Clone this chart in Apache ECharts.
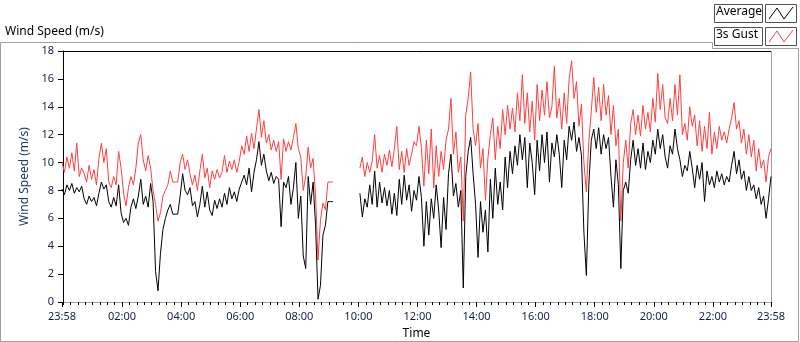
<!DOCTYPE html>
<html>
<head>
<meta charset="utf-8">
<script src="https://cdn.jsdelivr.net/npm/echarts@6/dist/echarts.min.js"></script>
<style>
html, body { margin: 0; padding: 0; background: #fff; }
#chart { width: 800px; height: 342px; }
</style>
</head>
<body>
<div id="chart"></div>
<script>
// samples every 5 minutes, starting 23:58 (minute -2 of the day)
const startMin = -2;
const stepMin = 5;

// average wind speed (m/s), null = no data
const average = [
  8.1, 7.7, 8.4, 8.0, 8.5, 7.8, 8.2, 7.9, 8.3,
  7.4, 7.0, 7.6, 7.2, 7.5, 6.9,
  7.8, 8.6, 8.1, 8.4,
  7.2, 6.8, 7.5, 6.9,
  8.4,
  6.4, 5.7, 6.0, 5.5,
  6.8, 7.4, 6.7, 7.6,
  8.8,
  7.0, 7.6, 6.8, 8.5,
  7.2, 2.2, 0.8, 3.5, 5.2, 6.0, 6.6, 7.0,
  6.3, 6.3, 6.3,
  7.6, 9.2,
  8.0, 7.7, 8.2,
  6.9, 7.2, 6.1,
  7.0, 8.3, 6.8, 7.9, 6.6,
  6.2, 7.3, 6.7, 7.4, 6.8,
  7.8, 7.0, 8.2,
  7.4, 7.9, 7.2, 8.1,
  8.6, 9.1,
  8.4, 9.6, 7.9, 9.3,
  10.2, 11.5, 9.8, 10.6,
  9.4, 8.7, 9.3, 8.5, 9.0, 8.8,
  5.4,
  8.6, 8.2, 9.0,
  7.0, 8.2,
  10.0, 6.0, 7.6, 3.3, 2.4, 9.0, 7.0, 8.6, 5.5, 0.2, 1.2, 4.8, 5.5,
  7.2, 7.2, 7.2,
  null, null, null, null, null, null, null, null, null, null,
  7.8, 6.1, 7.4, 6.8, 8.4, 7.0, 9.4, 6.8, 8.6, 7.1,
  8.2, 6.9, 8.0, 6.3, 7.8, 6.2, 8.8, 7.0, 9.1, 7.3,
  8.4, 6.5, 8.0, 7.3, 9.0, 7.5, 4.0,
  7.2, 4.8, 7.4, 6.0, 8.4, 6.6, 3.9, 7.5, 5.2, 9.2,
  10.6, 7.6, 8.5, 6.8, 8.0, 1.0, 9.0, 10.8, 11.8, 9.2,
  7.0, 3.2, 7.2, 5.0, 6.6, 3.6, 8.8, 6.0, 9.6, 7.0,
  8.6, 6.6, 10.4, 8.2, 10.8, 9.2, 11.2, 9.8, 12.0, 10.2,
  11.8, 8.2, 11.4, 10.0, 7.7, 11.6, 9.4, 12.0, 10.0,
  12.2, 8.6, 11.4, 10.4, 12.0, 10.6, 8.2, 11.6, 10.2, 12.6,
  11.6, 12.9, 10.8, 11.8, 10.5, 5.0, 1.9, 8.4, 11.6, 12.4,
  11.0, 12.5, 10.6, 12.0, 11.0, 11.8, 9.0, 6.8, 10.2, 8.4,
  2.4, 8.0, 8.6, 7.8, 10.2, 11.6, 9.8, 11.0, 9.6, 11.4,
  9.5, 10.8, 10.0, 11.6, 10.6, 12.4, 11.0, 12.0, 10.4,
  9.6, 11.2, 10.6, 12.4, 11.0, 10.2, 9.0, 9.8, 9.4, 10.8,
  9.6, 8.2, 9.8, 8.8, 10.0, 7.2, 9.4, 8.4, 9.0, 8.2,
  9.4, 8.6, 9.2, 8.4, 9.0, 8.6, 9.8, 10.8, 9.2, 10.2,
  8.8, 9.4, 8.0, 9.0, 8.0, 8.4, 7.4, 8.2, 7.0, 7.6,
  6.0, 7.4, 9.0
];

// 3 second gust (m/s)
const gust = [
  10.0, 9.3, 10.4, 9.6, 10.7, 9.4, 11.4, 9.0, 9.6,
  9.2, 8.6, 9.8, 8.8, 9.5, 8.4,
  10.3, 11.4, 10.0, 11.0,
  8.6, 8.2, 9.0, 8.4,
  10.8,
  9.6, 7.8, 6.9, 8.2,
  9.0, 8.4, 9.6, 11.4,
  12.0,
  10.2, 9.4, 10.5, 9.6,
  8.0, 7.0, 5.8, 6.4, 7.6, 8.0, 8.4, 9.4,
  8.6, 8.6, 8.6,
  10.0, 10.6,
  9.5, 10.2, 9.2,
  8.4, 9.1, 8.0,
  9.4, 10.6, 8.9, 9.6, 8.2,
  9.4, 8.8, 9.5, 8.9, 9.3,
  10.5, 9.3, 10.1,
  9.5, 10.2, 9.3, 10.1,
  11.2, 10.6,
  11.9, 10.8, 12.1, 11.0,
  12.4, 13.8, 11.8, 13.0,
  11.4, 12.0, 10.9, 11.6, 10.8, 11.5,
  8.8,
  11.7, 10.8, 11.5,
  10.9, 11.8,
  12.8, 11.0, 10.4, 8.0, 9.0, 11.1, 9.6, 10.3, 7.6, 3.0, 5.9, 7.1, 6.6,
  8.6, 8.6, 8.6,
  null, null, null, null, null, null, null, null, null, null,
  9.6, 10.4, 9.0, 10.0, 9.3, 10.1, 12.0, 9.6, 10.5, 9.3,
  10.6, 9.8, 10.9, 9.7, 11.0, 12.6, 9.5, 10.8, 9.3, 11.0,
  9.8, 10.6, 11.5, 11.2, 12.6, 11.0, 8.3,
  11.6, 9.2, 12.4, 8.2, 11.2, 9.0, 10.8, 9.5, 11.6, 12.4,
  14.6, 10.6, 12.2, 9.3, 10.4, 5.8, 13.4, 14.6, 16.5, 12.4,
  11.2, 12.8, 9.6, 11.0, 7.3, 10.3, 12.0, 13.2, 10.2, 12.6,
  11.0, 13.8, 12.0, 14.1, 12.4, 13.9, 12.2, 15.0, 13.0, 16.3,
  12.8, 15.0, 12.2, 14.4, 11.6, 15.6, 13.0, 15.2, 13.4,
  15.8, 13.2, 14.0, 16.9, 13.2, 14.6, 12.4, 15.0, 12.8, 16.0,
  17.3, 14.6, 15.8, 12.6, 14.2, 10.0, 7.9, 11.5, 13.7, 16.1,
  13.6, 15.4, 13.0, 15.6, 13.4, 14.8, 12.0, 14.1, 11.2, 12.4,
  5.8, 10.0, 11.6, 9.6, 12.8, 13.8, 12.0, 13.4, 11.9, 14.1,
  12.4, 13.6, 12.2, 14.6, 12.9, 16.4, 13.8, 15.6, 13.2,
  12.8, 14.6, 13.0, 15.6, 13.4, 16.3, 12.0, 12.8, 11.6, 14.0,
  12.6, 13.4, 11.2, 13.0, 10.8, 12.6, 11.0, 13.6, 10.6, 12.2,
  11.0, 12.6, 11.6, 12.2, 11.4, 12.4, 13.2, 14.3, 12.4, 13.0,
  11.4, 12.4, 10.6, 12.0, 10.4, 11.6, 9.4, 11.0, 9.6, 10.2,
  8.6, 10.4, 11.0
];

// time axis labels
const tickMinutes = [-2, 120, 240, 360, 480, 600, 720, 840, 960, 1080, 1200, 1320, 1438];
const tickLabels = ['23:58', '02:00', '04:00', '06:00', '08:00', '10:00', '12:00',
  '14:00', '16:00', '18:00', '20:00', '22:00', '23:58'];

const minorMinutes = [];
for (let m = 0; m < 1440; m += 15) minorMinutes.push(m);

const toPairs = arr => arr.map((v, i) => [startMin + i * stepMin, v]);

const chart = echarts.init(document.getElementById('chart'));
const font = 'Noto Sans';
const labelColor = '#14203f';

const option = {
  animation: false,
  textStyle: { fontFamily: font },
  grid: { left: 62, top: 51, width: 709, height: 251, containLabel: false, outerBoundsMode: 'none' },
  xAxis: [
    {
      type: 'value',
      min: -2,
      max: 1438,
      name: 'Time',
      nameLocation: 'middle',
      nameGap: 26,
      nameTextStyle: { color: '#000', fontSize: 12, fontFamily: font },
      axisLine: { show: true, lineStyle: { color: '#a0a0a0', width: 1 } },
      axisTick: { show: true, customValues: tickMinutes, length: 5, lineStyle: { color: '#000' } },
      axisLabel: {
        customValues: tickMinutes,
        fontSize: 11,
        color: labelColor,
        margin: 9,
        formatter: v => tickLabels[tickMinutes.indexOf(v)] || ''
      },
      splitLine: { show: false }
    },
    {
      type: 'value',
      min: -2,
      max: 1438,
      position: 'bottom',
      axisLine: { show: false },
      axisTick: { show: true, customValues: minorMinutes, length: 3, lineStyle: { color: '#000' } },
      axisLabel: { show: false },
      splitLine: { show: false }
    }
  ],
  yAxis: {
    type: 'value',
    min: 0,
    max: 18,
    interval: 2,
    name: 'Wind Speed (m/s)',
    nameLocation: 'middle',
    nameGap: 24,
    nameTextStyle: { color: '#1c3a6e', fontSize: 12, fontFamily: font },
    axisLine: { show: true, lineStyle: { color: '#000', width: 1 } },
    axisTick: { show: true, length: 5, lineStyle: { color: '#000' } },
    axisLabel: { fontSize: 11, color: labelColor, margin: 8 },
    splitLine: { show: false }
  },
  series: [
    {
      name: '3s Gust',
      type: 'line',
      data: toPairs(gust),
      showSymbol: false,
      connectNulls: false,
      lineStyle: { color: '#ff3f3f', width: 1 },
      itemStyle: { color: '#ff3f3f' }
    },
    {
      name: 'Average',
      type: 'line',
      data: toPairs(average),
      showSymbol: false,
      connectNulls: false,
      lineStyle: { color: '#000', width: 1 },
      itemStyle: { color: '#000' }
    }
  ],
  graphic: [
    // chart title
    { type: 'text', left: 5, top: 26, style: { text: 'Wind Speed (m/s)', fontSize: 12, fontFamily: font, fill: '#000' } },
    // outer frame
    {
      type: 'polyline',
      shape: { points: [[0.5, 342], [0.5, 42.5], [712.5, 42.5], [712.5, 48.5], [798.5, 48.5], [798.5, 341.5], [0.5, 341.5]] },
      style: { stroke: '#a0a0a0', fill: null, lineWidth: 1 }
    },
    // plot box top / right edges
    { type: 'line', shape: { x1: 62, y1: 51.5, x2: 771.5, y2: 51.5 }, style: { stroke: '#000', lineWidth: 1 } },
    { type: 'line', shape: { x1: 771.5, y1: 51, x2: 771.5, y2: 302 }, style: { stroke: '#a0a0a0', lineWidth: 1 } },
    // legend: Average
    { type: 'rect', shape: { x: 714.5, y: 4.5, width: 48, height: 18 }, style: { fill: '#fff', stroke: '#505050', lineWidth: 1 } },
    { type: 'text', left: 716, top: 6, style: { text: 'Average', fontSize: 12, fontFamily: font, fill: '#000' } },
    { type: 'rect', shape: { x: 765.5, y: 4.5, width: 31, height: 18 }, style: { fill: '#fff', stroke: '#505050', lineWidth: 1 } },
    { type: 'polyline', shape: { points: [[769, 19], [777, 8], [784, 19], [793, 7]] }, style: { stroke: '#000', fill: null, lineWidth: 1 } },
    // legend: 3s Gust
    { type: 'rect', shape: { x: 714.5, y: 27.5, width: 48, height: 18 }, style: { fill: '#fff', stroke: '#505050', lineWidth: 1 } },
    { type: 'text', left: 716, top: 29, style: { text: '3s Gust', fontSize: 12, fontFamily: font, fill: '#000' } },
    { type: 'rect', shape: { x: 765.5, y: 27.5, width: 31, height: 18 }, style: { fill: '#fff', stroke: '#505050', lineWidth: 1 } },
    { type: 'polyline', shape: { points: [[769, 42], [777, 31], [784, 42], [793, 30]] }, style: { stroke: '#ff3f3f', fill: null, lineWidth: 1 } }
  ]
};

chart.setOption(option);
</script>
</body>
</html>
